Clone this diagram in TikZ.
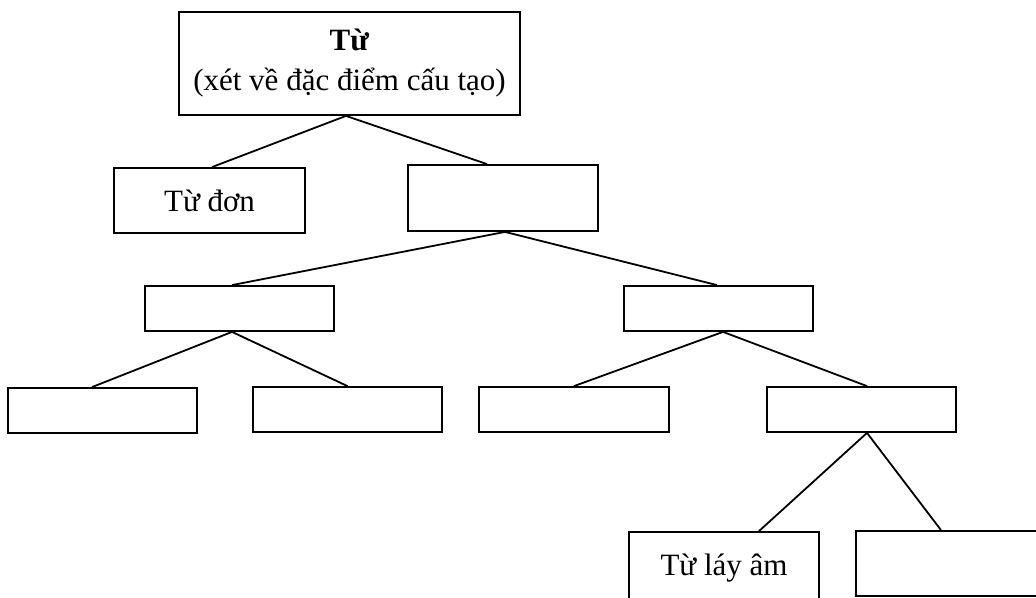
\documentclass[tikz,border=0pt]{standalone}
\usepackage{fontspec}
\setmainfont{Liberation Serif}
\begin{document}
\begin{tikzpicture}[x=1pt,y=-1pt,
  box/.style={draw,line width=1.8pt,rectangle,inner sep=0pt,minimum width=190pt,minimum height=45pt,font=\fontsize{31}{40}\selectfont},
  link/.style={line width=1.8pt}]
\useasboundingbox (0,0) rectangle (1036,597);
\clip (0,0) rectangle (1036,597);
\node[box,minimum width=341pt,minimum height=103pt,align=center] (top) at (349.5,63.5) {\textbf{Từ}\\(xét về đặc điểm cấu tạo)};
\node[box,minimum width=191pt,minimum height=65pt] (don) at (209.5,200.5) {Từ đơn};
\node[box,minimum height=66pt] (phuc) at (503,198) {};
\node[box,minimum width=189pt] (l3a) at (239.5,308.5) {};
\node[box,minimum width=189pt] (l3b) at (718.5,308.5) {};
\node[box,minimum width=189pt] (l4a) at (102.5,410.5) {};
\node[box,minimum width=189pt] (l4b) at (347.5,409.5) {};
\node[box] (l4c) at (574,409.5) {};
\node[box,minimum width=189pt] (l4d) at (861.5,409.5) {};
\node[box,minimum height=72pt] (l5a) at (724,568) {Từ láy âm};
\node[box,minimum height=65pt] (l5b) at (951,563.5) {};
\draw[link] ([xshift=-3.5pt]top.south) -- ([xshift=2.5pt]don.north);
\draw[link] ([xshift=-3.5pt]top.south) -- ([xshift=-16pt]phuc.north);
\draw[link] ([xshift=2pt]phuc.south) -- ([xshift=-7.5pt]l3a.north);
\draw[link] ([xshift=2pt]phuc.south) -- ([xshift=-1.5pt]l3b.north);
\draw[link] ([xshift=-7.5pt]l3a.south) -- ([xshift=-10.5pt]l4a.north);
\draw[link] ([xshift=-7.5pt]l3a.south) -- (l4b.north);
\draw[link] ([xshift=4.5pt]l3b.south) -- (l4c.north);
\draw[link] ([xshift=4.5pt]l3b.south) -- ([xshift=5.5pt]l4d.north);
\draw[link] ([xshift=5.5pt]l4d.south) -- ([xshift=35pt]l5a.north);
\draw[link] ([xshift=5.5pt]l4d.south) -- ([xshift=-10pt]l5b.north);
\end{tikzpicture}
\end{document}
